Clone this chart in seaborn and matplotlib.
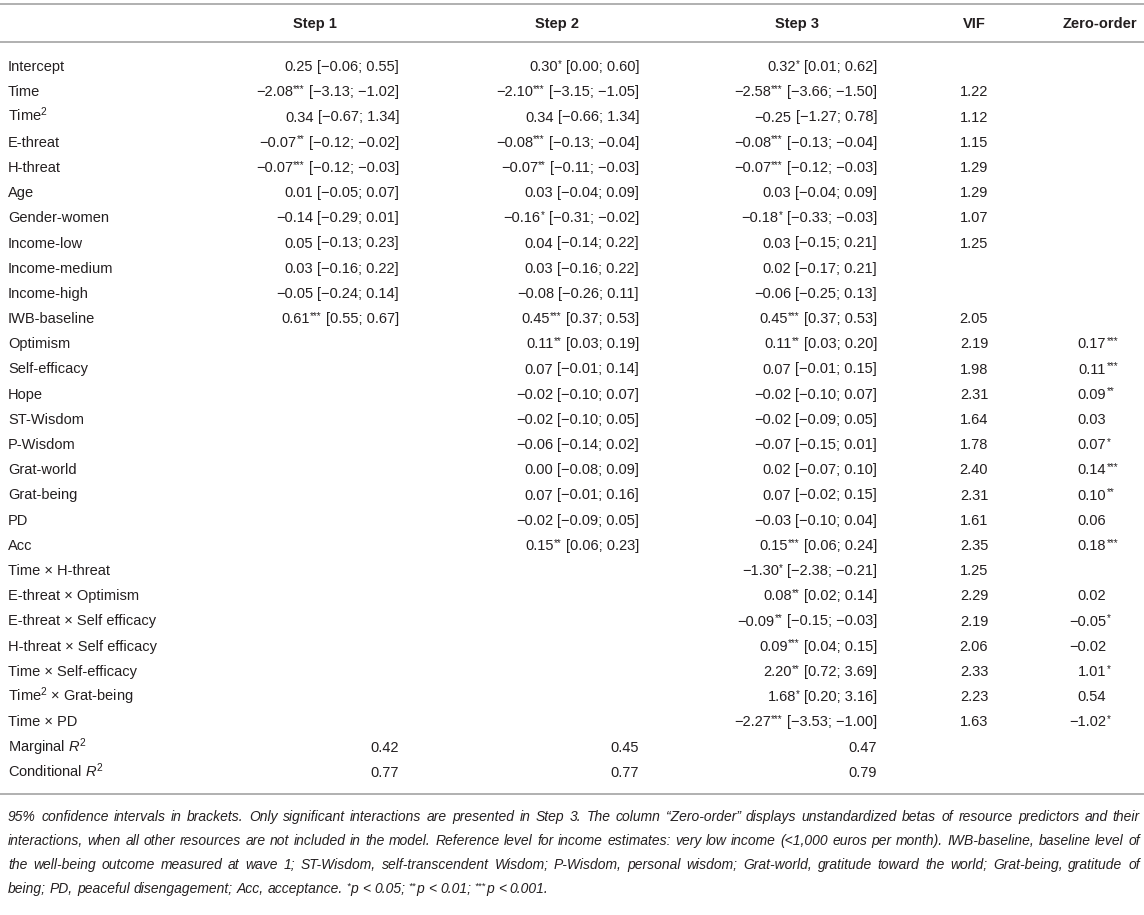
import matplotlib
matplotlib.use("Agg")
import matplotlib.pyplot as plt
import seaborn as sns
from matplotlib import font_manager as fm

# ---------------- data ----------------
row_labels = [
    "Intercept", "Time", "Time$^{2}$", "E-threat", "H-threat", "Age",
    "Gender-women", "Income-low", "Income-medium", "Income-high",
    "IWB-baseline", "Optimism", "Self-efficacy", "Hope", "ST-Wisdom",
    "P-Wisdom", "Grat-world", "Grat-being", "PD", "Acc",
    "Time \u00d7 H-threat", "E-threat \u00d7 Optimism",
    "E-threat \u00d7 Self efficacy", "H-threat \u00d7 Self efficacy",
    "Time \u00d7 Self-efficacy", "Time$^{2}$ \u00d7 Grat-being", "Time \u00d7 PD",
    "Marginal $\\mathit{R}^{2}$", "Conditional $\\mathit{R}^{2}$",
]
col_headers = ["Step 1", "Step 2", "Step 3", "VIF", "Zero-order"]

step1_est = [0.25, -2.08, 0.34, -0.07, -0.07, 0.01, -0.14, 0.05, 0.03, -0.05, 0.61]
step1_lo = [-0.06, -3.13, -0.67, -0.12, -0.12, -0.05, -0.29, -0.13, -0.16, -0.24, 0.55]
step1_hi = [0.55, -1.02, 1.34, -0.02, -0.03, 0.07, 0.01, 0.23, 0.22, 0.14, 0.67]
step1_sig = ["", "***", "", "**", "***", "", "", "", "", "", "***"]

step2_est = [0.30, -2.10, 0.34, -0.08, -0.07, 0.03, -0.16, 0.04, 0.03, -0.08,
             0.45, 0.11, 0.07, -0.02, -0.02, -0.06, 0.00, 0.07, -0.02, 0.15]
step2_lo = [0.00, -3.15, -0.66, -0.13, -0.11, -0.04, -0.31, -0.14, -0.16, -0.26,
            0.37, 0.03, -0.01, -0.10, -0.10, -0.14, -0.08, -0.01, -0.09, 0.06]
step2_hi = [0.60, -1.05, 1.34, -0.04, -0.03, 0.09, -0.02, 0.22, 0.22, 0.11,
            0.53, 0.19, 0.14, 0.07, 0.05, 0.02, 0.09, 0.16, 0.05, 0.23]
step2_sig = ["*", "***", "", "***", "**", "", "*", "", "", "",
             "***", "**", "", "", "", "", "", "", "", "**"]

step3_est = [0.32, -2.58, -0.25, -0.08, -0.07, 0.03, -0.18, 0.03, 0.02, -0.06,
             0.45, 0.11, 0.07, -0.02, -0.02, -0.07, 0.02, 0.07, -0.03, 0.15,
             -1.30, 0.08, -0.09, 0.09, 2.20, 1.68, -2.27]
step3_lo = [0.01, -3.66, -1.27, -0.13, -0.12, -0.04, -0.33, -0.15, -0.17, -0.25,
            0.37, 0.03, -0.01, -0.10, -0.09, -0.15, -0.07, -0.02, -0.10, 0.06,
            -2.38, 0.02, -0.15, 0.04, 0.72, 0.20, -3.53]
step3_hi = [0.62, -1.50, 0.78, -0.04, -0.03, 0.09, -0.03, 0.21, 0.21, 0.13,
            0.53, 0.20, 0.15, 0.07, 0.05, 0.01, 0.10, 0.15, 0.04, 0.24,
            -0.21, 0.14, -0.03, 0.15, 3.69, 3.16, -1.00]
step3_sig = ["*", "***", "", "***", "***", "", "*", "", "", "",
             "***", "**", "", "", "", "", "", "", "", "***",
             "*", "**", "**", "***", "**", "*", "***"]

marginal_r2 = [0.42, 0.45, 0.47]
conditional_r2 = [0.77, 0.77, 0.79]

vif = [None, 1.22, 1.12, 1.15, 1.29, 1.29, 1.07, 1.25, None, None,
       2.05, 2.19, 1.98, 2.31, 1.64, 1.78, 2.40, 2.31, 1.61, 2.35,
       1.25, 2.29, 2.19, 2.06, 2.33, 2.23, 1.63]
zero_order = [None] * 11 + [0.17, 0.11, 0.09, 0.03, 0.07, 0.14, 0.10, 0.06, 0.18,
                            None, 0.02, -0.05, -0.02, 1.01, 0.54, -1.02]
zero_sig = [""] * 11 + ["***", "***", "**", "", "*", "***", "**", "", "***",
                        "", "", "*", "", "*", "", "*"]

footnote_lines = [
    "95% confidence intervals in brackets. Only significant interactions are presented in Step 3. "
    "The column \u201cZero-order\u201d displays unstandardized betas of resource predictors and their",
    "interactions, when all other resources are not included in the model. Reference level for income "
    "estimates: very low income (<1,000 euros per month). IWB-baseline, baseline level of",
    "the well-being outcome measured at wave 1; ST-Wisdom, self-transcendent Wisdom; P-Wisdom, personal "
    "wisdom; Grat-world, gratitude toward the world; Grat-being, gratitude of",
    "being; PD, peaceful disengagement; Acc, acceptance. *p < 0.05; **p < 0.01; ***p < 0.001.",
]

# ---------------- style ----------------
sns.set_theme(style="white")
names = {f.name for f in fm.fontManager.ttflist}
main_font = "Liberation Sans" if "Liberation Sans" in names else "DejaVu Sans"
note_font = "Liberation Sans Narrow" if "Liberation Sans Narrow" in names else main_font
plt.rcParams["font.family"] = [main_font, "DejaVu Sans"]
plt.rcParams["mathtext.fontset"] = "custom"
plt.rcParams["mathtext.rm"] = main_font
plt.rcParams["mathtext.it"] = main_font + ":italic"
plt.rcParams["mathtext.bf"] = main_font + ":bold"
plt.rcParams["mathtext.default"] = "regular"

W, H = 1144, 915
FS = 10.5
STAR_FS = FS * 0.68
STAR_RISE = 4.2
TXT = "#231f20"
LINE = "#b0b0b0"
ROW0, ROW_STEP = 66, 25.2
BASE_OFF = 5.1
HEAD_Y = 22.5
LINES_Y = [3.5, 42, 794]
NOTE_Y = [816, 840, 864, 888]
col_right = [399, 639, 877]
col_head = [315, 557, 797]
vif_x = 974
zero_right = 1106
zero_head = 1100
label_x = 8


def fmt(v):
    return f"{v:.2f}".replace("-", "\u2212")


fig = plt.figure(figsize=(W / 100, H / 100), dpi=100)
ax = fig.add_axes([0, 0, 1, 1])
ax.set_xlim(0, W)
ax.set_ylim(H, 0)
ax.axis("off")
fig.canvas.draw()
renderer = fig.canvas.get_renderer()


def measure(s, fs, **kw):
    t = ax.text(0, 0, s, fontsize=fs, **kw)
    w = t.get_window_extent(renderer).width
    t.remove()
    return w


def put(x, y, s, fs=FS, ha="left", **kw):
    ax.text(x, y, s, fontsize=fs, ha=ha, va="baseline", color=TXT, **kw)


space_w = measure("a a", FS) - measure("aa", FS)

ax.hlines(LINES_Y, 0, W, color=LINE, lw=1.4)

# headers
for x, h in zip(col_head + [vif_x, zero_head], col_headers):
    put(x, HEAD_Y + BASE_OFF, h, ha="center", fontweight="bold")

# row labels
for i, lab in enumerate(row_labels):
    put(label_x, ROW0 + i * ROW_STEP + BASE_OFF, lab)


def cell(xr, y, est, lo, hi, sig):
    ci = f"[{fmt(lo)}; {fmt(hi)}]"
    put(xr, y, ci, ha="right")
    x = xr - measure(ci, FS) - space_w
    if sig:
        put(x, y - STAR_RISE, sig, fs=STAR_FS, ha="right")
        x -= measure(sig, STAR_FS)
    put(x, y, fmt(est), ha="right")


steps = [
    (step1_est, step1_lo, step1_hi, step1_sig),
    (step2_est, step2_lo, step2_hi, step2_sig),
    (step3_est, step3_lo, step3_hi, step3_sig),
]
for c, (est, lo, hi, sig) in enumerate(steps):
    for i in range(len(est)):
        cell(col_right[c], ROW0 + i * ROW_STEP + BASE_OFF, est[i], lo[i], hi[i], sig[i])
    put(col_right[c], ROW0 + 27 * ROW_STEP + BASE_OFF, fmt(marginal_r2[c]), ha="right")
    put(col_right[c], ROW0 + 28 * ROW_STEP + BASE_OFF, fmt(conditional_r2[c]), ha="right")

for i, v in enumerate(vif):
    if v is not None:
        put(vif_x, ROW0 + i * ROW_STEP + BASE_OFF, fmt(v), ha="center")

for i, v in enumerate(zero_order):
    if v is not None:
        y = ROW0 + i * ROW_STEP + BASE_OFF
        put(zero_right, y, fmt(v), ha="right")
        if zero_sig[i]:
            put(zero_right + 0.5, y - STAR_RISE, zero_sig[i], fs=STAR_FS)

# ---------------- footnote (justified) ----------------
NOTE_KW = dict(family=[note_font, "DejaVu Sans"], style="italic")
left, right = 8, 1140


def split_word(w):
    n = len(w) - len(w.lstrip("*"))
    return w[:n], w[n:]


def word_width(w, fs):
    stars, rest = split_word(w)
    width = 0.0
    if stars:
        width += measure(stars, fs * 0.68, **NOTE_KW)
    if rest:
        width += measure(rest, fs, **NOTE_KW)
    return width


def draw_word(x, y, w, fs):
    stars, rest = split_word(w)
    if stars:
        put(x, y - STAR_RISE * fs / FS, stars, fs=fs * 0.68, **NOTE_KW)
        x += measure(stars, fs * 0.68, **NOTE_KW)
    if rest:
        put(x, y, rest, fs=fs, **NOTE_KW)


note_fs = 10.6
nsp = measure("a a", note_fs, **NOTE_KW) - measure("aa", note_fs, **NOTE_KW)
nat = max(sum(word_width(w, note_fs) for w in ln.split(" ")) + nsp * (len(ln.split(" ")) - 1)
          for ln in footnote_lines)
if nat > (right - left) * 0.99:
    note_fs *= (right - left) * 0.99 / nat
    nsp = measure("a a", note_fs, **NOTE_KW) - measure("aa", note_fs, **NOTE_KW)

for k, ln in enumerate(footnote_lines):
    words = ln.split(" ")
    widths = [word_width(w, note_fs) for w in words]
    if k < len(footnote_lines) - 1:
        gap = (right - left - sum(widths)) / (len(words) - 1)
    else:
        gap = nsp
    x = left
    for w, wd in zip(words, widths):
        draw_word(x, NOTE_Y[k] + BASE_OFF, w, note_fs)
        x += wd + gap

fig.savefig("out.png", dpi=100)
